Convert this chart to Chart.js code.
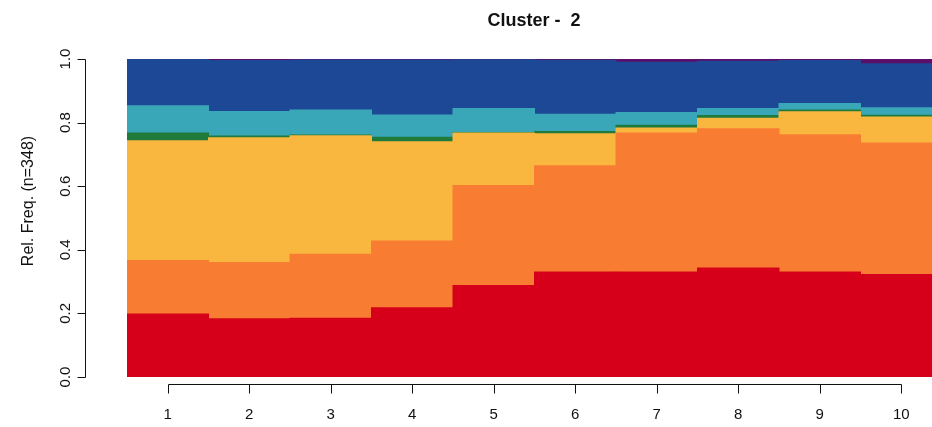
<!DOCTYPE html>
<html>
<head>
<meta charset="utf-8">
<script src="https://cdn.jsdelivr.net/npm/chart.js"></script>
<style>
  html, body { margin: 0; padding: 0; background: #fff; overflow: hidden; width: 932px; height: 427px; }
  #wrap { width: 942px; height: 427px; }
</style>
</head>
<body>
<div id="wrap"><canvas id="chart" width="942" height="427"></canvas></div>
<script>
// Data (stacked relative frequencies per step)
const titleText = "Cluster -  2";
const yTitle = "Rel. Freq. (n=348)";
const categories = ["1", "2", "3", "4", "5", "6", "7", "8", "9", "10"];
const yTicks = [0, 0.2, 0.4, 0.6, 0.8, 1.0];

const redVals    = [0.198, 0.183, 0.185, 0.218, 0.288, 0.330, 0.330, 0.343, 0.330, 0.322];
const orangeVals = [0.168, 0.177, 0.201, 0.210, 0.314, 0.334, 0.437, 0.438, 0.432, 0.414];
const yellowVals = [0.377, 0.392, 0.373, 0.312, 0.165, 0.101, 0.016, 0.033, 0.072, 0.082];
const greenVals  = [0.024, 0.006, 0.002, 0.014, 0.002, 0.007, 0.009, 0.008, 0.006, 0.005];
const tealVals   = [0.086, 0.077, 0.079, 0.070, 0.075, 0.054, 0.040, 0.022, 0.020, 0.024];
const blueVals   = [0.147, 0.160, 0.157, 0.173, 0.154, 0.170, 0.158, 0.149, 0.135, 0.138];
const purpleVals = [0.000, 0.005, 0.003, 0.003, 0.002, 0.004, 0.010, 0.007, 0.005, 0.015];

const seriesColors = ["#D7001A", "#F87C32", "#FAB740", "#1F7A3C", "#3AA7B8", "#1D4895", "#5B0F6A"];
const seriesValues = [redVals, orangeVals, yellowVals, greenVals, tealVals, blueVals, purpleVals];

// R-style axes: detached axis lines spanning only the tick range
const rAxes = {
  id: "rAxes",
  afterDraw(chart) {
    const ctx = chart.ctx;
    const xs = chart.scales.x;
    const ys = chart.scales.y;
    ctx.save();
    ctx.strokeStyle = "#111";
    ctx.fillStyle = "#111";
    ctx.lineWidth = 1;

    // x axis
    const ay = 384.5;
    const xFirst = Math.round(xs.getPixelForValue(0)) + 0.5;
    const xLast = Math.round(xs.getPixelForValue(categories.length - 1)) + 0.5;
    ctx.beginPath();
    ctx.moveTo(xFirst, ay);
    ctx.lineTo(xLast, ay);
    categories.forEach((c, i) => {
      const px = Math.round(xs.getPixelForValue(i)) + 0.5;
      ctx.moveTo(px, ay);
      ctx.lineTo(px, ay + 9);
    });
    ctx.stroke();
    ctx.font = "15px 'Liberation Sans', Arial, sans-serif";
    ctx.textAlign = "center";
    ctx.textBaseline = "middle";
    categories.forEach((c, i) => {
      ctx.fillText(c, xs.getPixelForValue(i), 414.5);
    });

    // y axis
    const ax = 85.5;
    ctx.beginPath();
    ctx.moveTo(ax, Math.round(ys.getPixelForValue(0)) + 0.5);
    ctx.lineTo(ax, Math.round(ys.getPixelForValue(1)) + 0.5);
    yTicks.forEach(v => {
      const py = Math.round(ys.getPixelForValue(v)) + 0.5;
      ctx.moveTo(ax, py);
      ctx.lineTo(ax - 8, py);
    });
    ctx.stroke();
    yTicks.forEach(v => {
      ctx.save();
      ctx.translate(66, ys.getPixelForValue(v));
      ctx.rotate(-Math.PI / 2);
      ctx.fillText(v.toFixed(1), 0, 0);
      ctx.restore();
    });

    // y title
    ctx.save();
    ctx.font = "16px 'Liberation Sans', Arial, sans-serif";
    ctx.translate(29, 201);
    ctx.rotate(-Math.PI / 2);
    ctx.fillText(yTitle, 0, 0);
    ctx.restore();

    // main title
    ctx.font = "bold 18px 'Liberation Sans', Arial, sans-serif";
    ctx.fillText(titleText, 534, 21);
    ctx.restore();
  }
};

new Chart(document.getElementById("chart").getContext("2d"), {
  type: "bar",
  data: {
    labels: categories,
    datasets: seriesValues.map((vals, i) => ({
      data: vals,
      backgroundColor: seriesColors[i],
      borderWidth: 0,
      inflateAmount: 0.5, // hide anti-alias seams between neighbouring bars
      categoryPercentage: 1.0,
      barPercentage: 1.0,
    })),
  },
  options: {
    responsive: false,
    animation: false,
    layout: { padding: { left: 127, right: 0, top: 59, bottom: 50 } },
    scales: {
      x: { stacked: true, display: false },
      y: { stacked: true, display: false, min: 0, max: 1 },
    },
    plugins: {
      legend: { display: false },
      title: { display: false },
      tooltip: { enabled: false },
    },
  },
  plugins: [rAxes],
});
</script>
</body>
</html>
